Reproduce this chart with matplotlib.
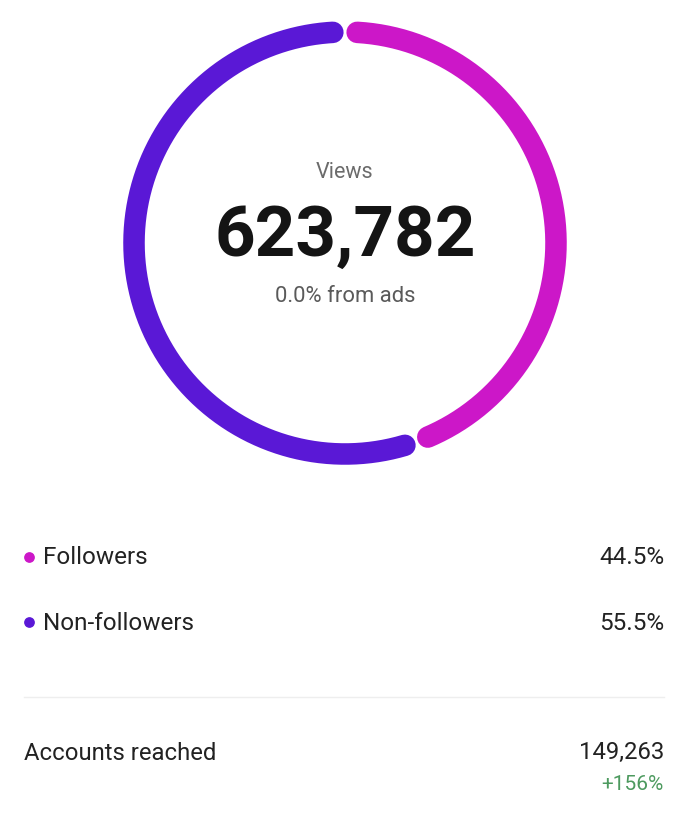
import numpy as np
import matplotlib
matplotlib.use("Agg")
import matplotlib.pyplot as plt

plt.rcParams['font.family'] = ['Roboto', 'DejaVu Sans']

# Données du graphique
categories = ['Followers', 'Non-followers']
shares = [44.5, 55.5]
colors = ['#CC17C8', '#5A18D6']
views = 623782
ads_share = 0.0
accounts_reached = 149263
reach_change = 156

fig = plt.figure(figsize=(6.88, 8.29), dpi=100)
ax = fig.add_axes([0, 0, 1, 1])
ax.set_xlim(0, 688)
ax.set_ylim(829, 0)
ax.axis('off')

# Anneau (sens horaire depuis le haut)
cx, cy, r = 345, 244, 211
gap = 3.3  # degrés de chaque côté
start = 90.0
for share, col in zip(shares, colors):
    sweep = share / 100 * 360
    th = np.radians(np.linspace(start - gap, start - sweep + gap, 300))
    ax.plot(cx + r * np.cos(th), cy - r * np.sin(th), color=col, lw=15.5,
            solid_capstyle='round')
    start -= sweep

# Texte central
ax.text(cx, 172, 'Views', ha='center', va='center', fontsize=15.5, color='#6b6b6b')
ax.text(cx, 236, f'{views:,}', ha='center', va='center', fontsize=51,
        fontweight='bold', color='#141414')
ax.text(cx, 296, f'{ads_share:.1f}% from ads', ha='center', va='center',
        fontsize=15.8, color='#5a5a5a')

# Légende
for i, (cat, share, col) in enumerate(zip(categories, shares, colors)):
    y = 558 + i * 65
    ax.scatter([29], [y], s=45, color=col, zorder=3)
    ax.text(43, y, cat, ha='left', va='center', fontsize=17.5, color='#222222')
    ax.text(664, y, f'{share}%', ha='right', va='center', fontsize=17.5, color='#222222')

ax.plot([24, 664], [698, 698], color='#eeeeee', lw=1)

ax.text(24, 753, 'Accounts reached', ha='left', va='center', fontsize=17.2, color='#222222')
ax.text(664, 752, f'{accounts_reached:,}', ha='right', va='center', fontsize=17.2, color='#222222')
ax.text(664, 785, f'+{reach_change}%', ha='right', va='center', fontsize=15, color='#4d9a5f')

fig.savefig('out.png', dpi=100, facecolor='white')
